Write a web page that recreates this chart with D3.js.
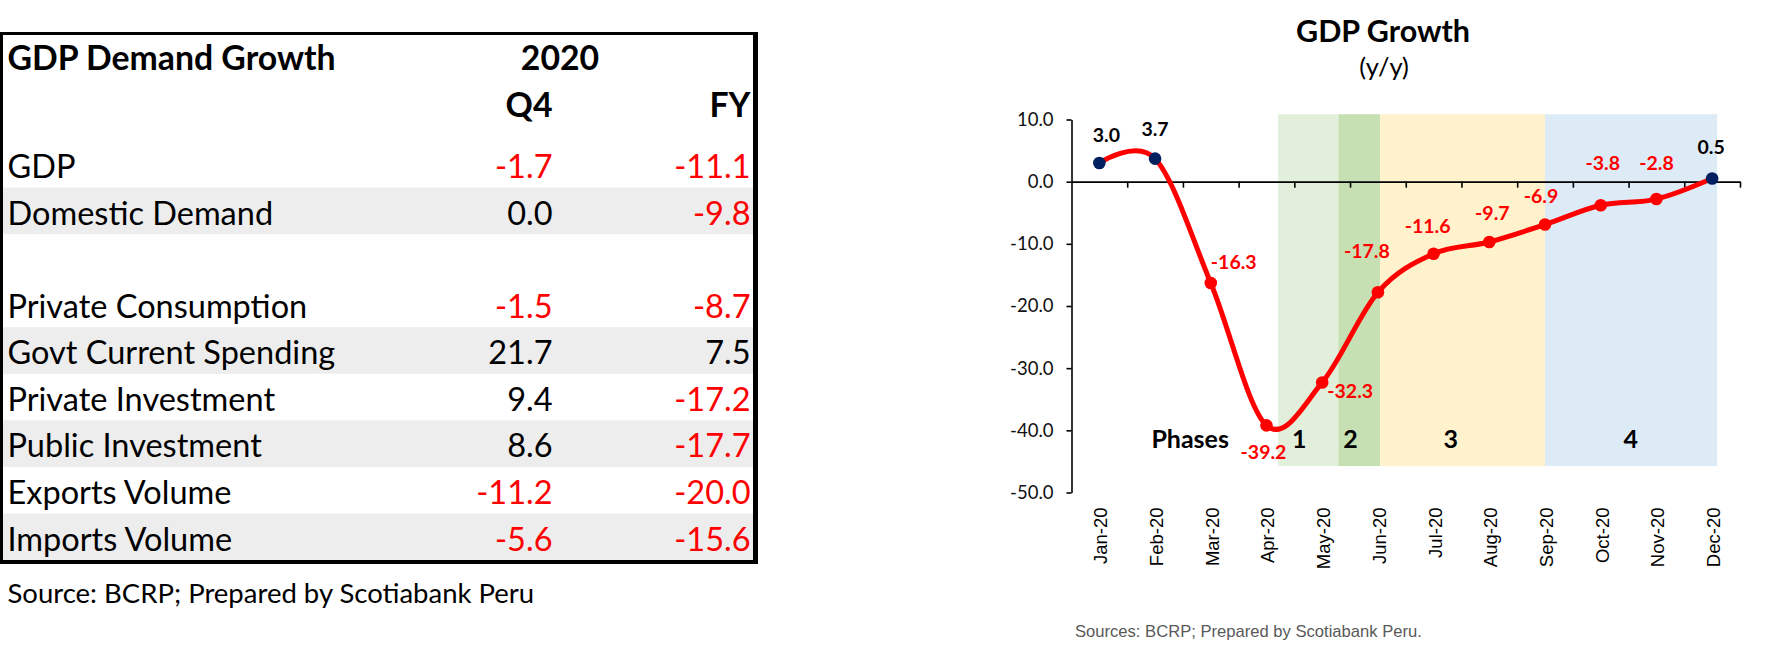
<!DOCTYPE html>
<html>
<head>
<meta charset="utf-8">
<script src="https://cdn.jsdelivr.net/npm/d3@7"></script>
<style>
  html, body { margin: 0; padding: 0; background: #ffffff; }
  svg { display: block; }
</style>
</head>
<body>
<svg id="chart" width="1767" height="652"></svg>
<script>
// ---------------- DATA ----------------
// Table
const tableTitle = "GDP Demand Growth";
const tableYear = "2020";
const tableColumns = ["Q4", "FY"];
const rowLabels = ["GDP", "Domestic Demand", "", "Private Consumption", "Govt Current Spending",
                   "Private Investment", "Public Investment", "Exports Volume", "Imports Volume"];
const q4Values = [-1.7, 0.0, null, -1.5, 21.7, 9.4, 8.6, -11.2, -5.6];
const fyValues = [-11.1, -9.8, null, -8.7, 7.5, -17.2, -17.7, -20.0, -15.6];
const tableSource = "Source: BCRP; Prepared by Scotiabank Peru";

// Line chart
const chartTitle = "GDP Growth";
const chartSubtitle = "(y/y)";
const months = ["Jan-20", "Feb-20", "Mar-20", "Apr-20", "May-20", "Jun-20",
                "Jul-20", "Aug-20", "Sep-20", "Oct-20", "Nov-20", "Dec-20"];
const gdpGrowth = [3.0, 3.7, -16.3, -39.2, -32.3, -17.8, -11.6, -9.7, -6.9, -3.8, -2.8, 0.5];
const yTicks = [10, 0, -10, -20, -30, -40, -50];
const yTickLabels = ["10.0", "0.0", "-10.0", "-20.0", "-30.0", "-40.0", "-50.0"];
const phaseLabels = ["1", "2", "3", "4"];
// phase spans in month-index units (integer = month centre)
const phaseStart = [3.21, 4.29, 5.04, 8.0];
const phaseEnd   = [4.29, 5.04, 8.0, 11.09];
const phasesTitle = "Phases";
const chartSource = "Sources: BCRP; Prepared by Scotiabank Peru.";

// ---------------- LAYOUT / STYLE ----------------
const svg = d3.select("#chart");
svg.append("rect").attr("width", 1767).attr("height", 652).attr("fill", "#fff");

const RED = "#FF0000";
const NAVY = "#002060";
const tableFont = "Lato, 'Open Sans', sans-serif";

// ---- Table ----
const T = { innerL: 3, innerR: 753, rowsTop: 141, rowsBottom: 560, labelX: 7.5, q4X: 552.5, fyX: 750.5 };
const shadedRows = [1, 4, 6, 8];

const rowScale = d3.scaleBand()
  .domain(d3.range(rowLabels.length))
  .range([T.rowsTop, T.rowsBottom]);

const tg = svg.append("g");
tg.selectAll("rect.band").data(shadedRows).join("rect")
  .attr("class", "band")
  .attr("x", T.innerL).attr("width", T.innerR - T.innerL)
  .attr("y", d => rowScale(d)).attr("height", rowScale.bandwidth())
  .attr("fill", "#EDEDED");

// borders
tg.append("rect").attr("x", 0).attr("y", 32).attr("width", 758).attr("height", 3).attr("fill", "#000");
tg.append("rect").attr("x", 0).attr("y", 32).attr("width", 3).attr("height", 532).attr("fill", "#000");
tg.append("rect").attr("x", 753).attr("y", 32).attr("width", 5).attr("height", 532).attr("fill", "#000");
tg.append("rect").attr("x", 0).attr("y", 560).attr("width", 758).attr("height", 4).attr("fill", "#000");

// headers
tg.append("text").attr("x", T.labelX).attr("y", 70)
  .attr("font-family", tableFont).attr("font-weight", 700).attr("font-size", 33.8)
  .text(tableTitle);
tg.append("text").attr("x", 560).attr("y", 70).attr("text-anchor", "middle")
  .attr("font-family", tableFont).attr("font-weight", 700).attr("font-size", 33.8)
  .text(tableYear);
tg.selectAll("text.colh").data(tableColumns).join("text")
  .attr("class", "colh")
  .attr("x", (d, i) => i === 0 ? T.q4X : T.fyX).attr("y", 116.7)
  .attr("text-anchor", "end")
  .attr("font-family", tableFont).attr("font-weight", 700).attr("font-size", 33.8)
  .text(d => d);

const baseOff = rowScale.bandwidth() - 9.5;
tg.selectAll("text.rl").data(rowLabels).join("text")
  .attr("class", "rl")
  .attr("x", T.labelX).attr("y", (d, i) => rowScale(i) + baseOff)
  .attr("font-family", tableFont).attr("font-size", 32.5).attr("fill", "#000")
  .text(d => d);

function numText(cls, vals, x) {
  tg.selectAll("text." + cls).data(vals.map((v, i) => ({ v, i })).filter(d => d.v !== null)).join("text")
    .attr("class", cls)
    .attr("x", x).attr("y", d => rowScale(d.i) + baseOff)
    .attr("text-anchor", "end")
    .attr("font-family", tableFont).attr("font-size", 32.5)
    .attr("fill", d => d.v < 0 ? RED : "#000")
    .text(d => d.v.toFixed(1));
}
numText("q4", q4Values, T.q4X);
numText("fy", fyValues, T.fyX);

svg.append("text").attr("x", 7.5).attr("y", 603)
  .attr("font-family", tableFont).attr("font-size", 27.5).attr("fill", "#000")
  .text(tableSource);

// ---- Line chart ----
const C = { left: 1071.5, right: 1740, yTop: 119.5, yBottom: 492.5 };
const x = d3.scaleBand().domain(months).range([C.left, C.right]).padding(0);
const bw = x.bandwidth();
const xi = i => C.left + (i + 0.5) * bw;          // month index -> pixel
const y = d3.scaleLinear().domain([-50, 10]).range([C.yBottom, C.yTop]);

const cg = svg.append("g");

// titles
cg.append("text").attr("x", 1383).attr("y", 42).attr("text-anchor", "middle")
  .attr("font-family", tableFont).attr("font-weight", 700).attr("font-size", 30.5)
  .text(chartTitle);
cg.append("text").attr("x", 1384).attr("y", 76).attr("text-anchor", "middle")
  .attr("font-family", tableFont).attr("font-size", 25.5)
  .text(chartSubtitle);

// phase bands
const phaseColors = ["#E2EFDA", "#C6E0B4", "#FFF2CC", "#DDEBF7"];
const bandTop = 10.85, bandBottom = -45.75;
cg.selectAll("rect.phase").data(phaseLabels).join("rect")
  .attr("class", "phase")
  .attr("x", (d, i) => xi(phaseStart[i]))
  .attr("width", (d, i) => xi(phaseEnd[i]) - xi(phaseStart[i]))
  .attr("y", y(bandTop)).attr("height", y(bandBottom) - y(bandTop))
  .attr("fill", (d, i) => phaseColors[i]);

// phase labels
const phaseLabelPos = [3.59, 4.51, 6.31, 9.54];
const phaseBaseline = -42.85;
cg.append("text").attr("x", xi(1.63)).attr("y", y(phaseBaseline)).attr("text-anchor", "middle")
  .attr("font-family", tableFont).attr("font-weight", 700).attr("font-size", 25)
  .text(phasesTitle);
cg.selectAll("text.phl").data(phaseLabels).join("text")
  .attr("class", "phl")
  .attr("x", (d, i) => xi(phaseLabelPos[i])).attr("y", y(phaseBaseline))
  .attr("text-anchor", "middle")
  .attr("font-family", tableFont).attr("font-weight", 700).attr("font-size", 25)
  .text(d => d);

// y axis
const yAxis = d3.axisLeft(y).tickValues(yTicks)
  .tickFormat((d, i) => yTickLabels[i]).tickSize(5).tickSizeOuter(0).tickPadding(13);
const yg = cg.append("g").attr("transform", `translate(${C.left},0)`).call(yAxis);
yg.selectAll("path, line").attr("stroke", "#000").attr("stroke-width", 1.6);
yg.selectAll("text").attr("font-family", tableFont).attr("font-size", 18.5).attr("fill", "#111");

// x axis at zero with boundary ticks
const xLin = d3.scaleLinear().domain([0, months.length]).range([C.left, C.right]);
const xAxis = d3.axisBottom(xLin).tickValues(d3.range(1, months.length + 1))
  .tickFormat("").tickSize(6).tickSizeOuter(0);
const xg = cg.append("g").attr("transform", `translate(0,${y(0)})`).call(xAxis);
xg.selectAll("path, line").attr("stroke", "#000").attr("stroke-width", 1.6);

// month labels (rotated)
cg.selectAll("text.mon").data(months).join("text")
  .attr("class", "mon")
  .attr("transform", d => `translate(${x(d) + bw / 2 + 1.5},507.5) rotate(-90)`)
  .attr("text-anchor", "end").attr("dy", "0.35em")
  .attr("font-family", "'Liberation Sans', Arial, sans-serif").attr("font-size", 18.5)
  .attr("fill", "#000")
  .text(d => d);

// line
const pts = months.map((m, i) => ({ m, v: gdpGrowth[i] }));
const line = d3.line()
  .x(d => x(d.m) + bw / 2).y(d => y(d.v))
  .curve(d3.curveCardinal.tension(0));
cg.append("path").datum(pts).attr("d", line)
  .attr("fill", "none").attr("stroke", RED).attr("stroke-width", 5)
  .attr("stroke-linecap", "round").attr("stroke-linejoin", "round");

cg.selectAll("circle.pt").data(pts).join("circle")
  .attr("class", "pt")
  .attr("cx", d => x(d.m) + bw / 2).attr("cy", d => y(d.v))
  .attr("r", 6.3)
  .attr("fill", d => d.v >= 0 ? NAVY : RED);

// data labels
const labelOffsets = [[7, -28], [0, -30], [23, -21], [-3, 27], [28, 9], [-11, -41],
                      [-6, -28], [3, -29], [-4, -29], [2, -42], [0, -36], [-1, -32]];
cg.selectAll("text.dl").data(pts).join("text")
  .attr("class", "dl")
  .attr("x", (d, i) => x(d.m) + bw / 2 + labelOffsets[i][0])
  .attr("y", (d, i) => y(d.v) + labelOffsets[i][1])
  .attr("dy", "0.36em").attr("text-anchor", "middle")
  .attr("font-family", tableFont).attr("font-weight", 700).attr("font-size", 19.5)
  .attr("fill", d => d.v >= 0 ? "#000" : RED)
  .text(d => d.v.toFixed(1));

// source
svg.append("text").attr("x", 1075).attr("y", 637)
  .attr("font-family", "'Liberation Sans', Arial, sans-serif").attr("font-size", 16.6)
  .attr("fill", "#595959")
  .text(chartSource);
</script>
</body>
</html>
